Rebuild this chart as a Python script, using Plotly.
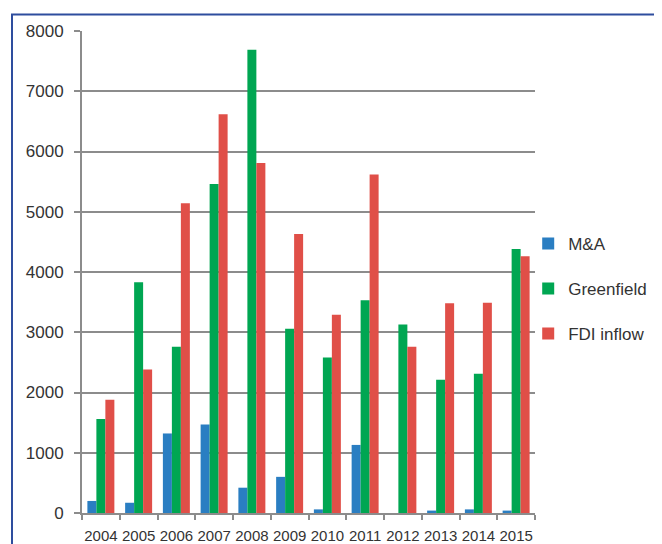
import plotly.graph_objects as go

years = ["2004", "2005", "2006", "2007", "2008", "2009", "2010", "2011", "2012", "2013", "2014", "2015"]
ma = [200, 170, 1320, 1470, 420, 600, 60, 1130, 0, 40, 60, 40]
greenfield = [1560, 3830, 2760, 5460, 7690, 3060, 2580, 3530, 3130, 2210, 2310, 4380]
fdi_inflow = [1880, 2380, 5140, 6620, 5810, 4630, 3290, 5620, 2760, 3480, 3490, 4260]

series = [
    ("M&A", ma, "#2A7EC2"),
    ("Greenfield", greenfield, "#00A652"),
    ("FDI inflow", fdi_inflow, "#E04F48"),
]

fig = go.Figure()
for i, (name, vals, col) in enumerate(series):
    fig.add_trace(go.Bar(x=years, y=vals, name=name, marker_color=col,
                         marker_line_width=0, legendgroup=str(i)))

# page body has an 8px margin; figure sized to fit the 662x544 window
OFF = 8
W, H = 662 - OFF, 544 - OFF
L, R, T, B = 82 - OFF, 127, 31 - OFF, 31
pw, ph = W - L - R, H - T - B

fig.update_layout(
    width=W, height=H,
    margin=dict(l=L, r=R, t=T, b=B, autoexpand=False),
    paper_bgcolor="white", plot_bgcolor="white",
    barmode="group", bargap=0.285, bargroupgap=0,
    font=dict(family="Liberation Sans, Arial, sans-serif", size=16, color="#333333"),
    showlegend=True,
    legend=dict(x=0.985, y=0.465, xanchor="left", yanchor="middle",
                font=dict(size=17, color="#333333"), tracegroupgap=20,
                bgcolor="rgba(0,0,0,0)", itemwidth=30),
    xaxis=dict(showgrid=False, showline=True, linecolor="#8C8C8C", linewidth=2,
               ticks="outside", tickson="boundaries", ticklen=5, tickcolor="#8C8C8C",
               tickwidth=2, tickfont=dict(size=15), tickangle=0, ticklabelstandoff=8,
               automargin=False),
    yaxis=dict(range=[0, 8000], dtick=1000, showgrid=True, gridcolor="#8C8C8C",
               gridwidth=2, showline=True, linecolor="#8C8C8C", linewidth=2,
               ticks="outside", ticklen=6, tickcolor="#8C8C8C", tickwidth=2,
               tickfont=dict(size=17), ticklabelstandoff=7, zeroline=False,
               fixedrange=True, automargin=False),
    shapes=[dict(type="rect", xref="paper", yref="paper",
                 x0=(12 - 82) / pw, x1=(W + 20 - L) / pw,
                 y0=-(B + 20) / ph, y1=(ph + T - (14.5 - OFF)) / ph,
                 line=dict(color="#2E4D9E", width=2), fillcolor="rgba(0,0,0,0)",
                 layer="below")],
)

fig.write_html("out.html")
